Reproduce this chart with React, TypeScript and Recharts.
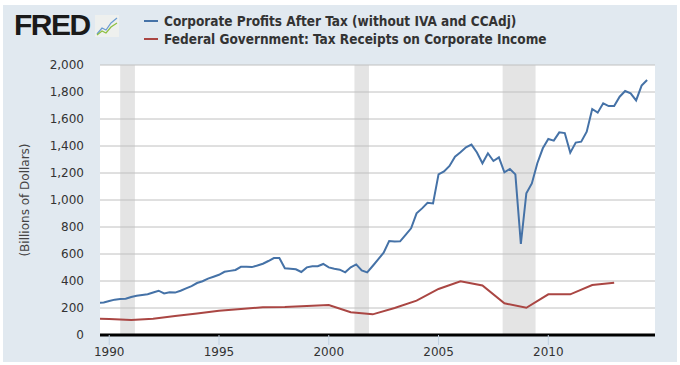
import React from "react";
import {
  ComposedChart,
  Line,
  XAxis,
  YAxis,
  CartesianGrid,
  ReferenceArea,
  ReferenceLine,
} from "recharts";

// quarterly, first observation 1989 Q3
const profitStart = 1989.5;
const profits = [
  239, 241,
  252, 262, 266, 268,
  282, 291, 297, 302,
  315, 328, 308, 316,
  314, 328, 345, 362,
  385, 398, 418, 432,
  446, 468, 475, 482,
  505, 506, 503, 515,
  528, 548, 570, 571,
  494, 491, 487, 467,
  501, 509, 509, 526,
  501, 491, 484, 464,
  501, 523, 479, 464,
  511, 560, 610, 696,
  692, 694, 741, 790,
  901, 938, 980, 975,
  1190, 1212, 1252, 1321,
  1353, 1390, 1410, 1352,
  1272, 1346, 1289, 1316,
  1205, 1230, 1190, 674,
  1050, 1123, 1272, 1383,
  1452, 1440, 1501, 1496,
  1351, 1425, 1432, 1506,
  1674, 1647, 1716, 1696,
  1696, 1765, 1807, 1790,
  1738, 1847, 1889,
];

// annual
const taxYears = [
  1989, 1990, 1991, 1992, 1993, 1994, 1995, 1996, 1997, 1998, 1999, 2000, 2001,
  2002, 2003, 2004, 2005, 2006, 2007, 2008, 2009, 2010, 2011, 2012, 2013,
];
const taxReceipts = [
  123, 118, 111, 121, 141, 160, 180, 193, 205, 207, 215, 222, 168,
  153, 200, 255, 341, 398, 367, 235, 202, 301, 301, 370, 387,
];

const recessions = [
  [1990.5, 1991.17],
  [2001.17, 2001.83],
  [2007.92, 2009.42],
];

const yTicks = [0, 200, 400, 600, 800, 1000, 1200, 1400, 1600, 1800, 2000];
const xTicks = [1990, 1995, 2000, 2005, 2010];

const profitLabel = "Corporate Profits After Tax (without IVA and CCAdj)";
const taxLabel = "Federal Government: Tax Receipts on Corporate Income";

const blue = "#4572A7";
const red = "#AA4643";
const font = "'DejaVu Sans', Verdana, sans-serif";

const profitData = profits.map((v, i) => ({ t: profitStart + i * 0.25, v }));
const taxData = taxYears.map((t, i) => ({ t, v: taxReceipts[i] }));

const LegendRow = ({ color, text, top }: { color: string; text: string; top: number }) => (
  <div style={{ position: "absolute", left: 144, top, display: "flex", alignItems: "center" }}>
    <div style={{ width: 14, height: 2, background: color, marginRight: 6 }} />
    <span
      style={{
        fontFamily: "'DejaVu Sans Condensed', 'DejaVu Sans', sans-serif",
        fontWeight: "bold",
        fontSize: 13.5,
        color: "#333",
        whiteSpace: "nowrap",
      }}
    >
      {text}
    </span>
  </div>
);

export default function App() {
  return (
    <div style={{ position: "absolute", left: 0, top: 0, width: 680, height: 365, background: "#fff" }}>
      <div
        style={{ position: "absolute", left: 3, top: 5, width: 674, height: 357, background: "#E1E9F0" }}
      />
      {/* logo */}
      <div
        style={{
          position: "absolute",
          left: 14,
          top: 8,
          fontFamily: "'Liberation Sans', Arial, sans-serif",
          fontWeight: 900,
          fontSize: 30,
          letterSpacing: -1.5,
          color: "#1a1a1a",
        }}
      >
        FRED
      </div>
      <svg style={{ position: "absolute", left: 95, top: 15 }} width={24} height={22}>
        <rect x={0} y={0} width={24} height={22} fill="#eef0ee" />
        <polyline points="2,19 7,13 11,15 16,8 22,3" fill="none" stroke="#6a9bd1" strokeWidth={1.2} />
        <polyline points="2,20 7,16 11,18 16,12 22,8" fill="none" stroke="#8cbf3f" strokeWidth={1.2} />
      </svg>
      <LegendRow color={blue} text={profitLabel} top={13} />
      <LegendRow color={red} text={taxLabel} top={31} />
      <div
        style={{
          position: "absolute",
          left: 25,
          top: 200,
          transform: "translate(-50%, -50%) rotate(-90deg)",
          fontFamily: font,
          fontSize: 12,
          color: "#444",
          whiteSpace: "nowrap",
        }}
      >
        (Billions of Dollars)
      </div>
      <div style={{ position: "absolute", left: 0, top: 0 }}>
        <ComposedChart
          width={680}
          height={365}
          margin={{ top: 65, right: 25, bottom: 10, left: 40 }}
        >
          <CartesianGrid horizontal={false} vertical={false} fill="#ffffff" />
          <XAxis
            dataKey="t"
            type="number"
            domain={[1989.58, 2014.86]}
            allowDataOverflow
            ticks={xTicks}
            height={20}
            tickSize={10}
            tickMargin={2}
            axisLine={{ stroke: "#000", strokeWidth: 3 }}
            tickLine={{ stroke: "#C0D0E0" }}
            tick={{ fontFamily: font, fontSize: 12, fill: "#333" }}
          />
          <YAxis
            type="number"
            domain={[0, 2000]}
            ticks={yTicks}
            width={60}
            axisLine={false}
            tickLine={false}
            tickSize={0}
            tickMargin={16}
            tickFormatter={(v: number) => v.toLocaleString("en-US")}
            tick={{ fontFamily: font, fontSize: 12, fill: "#333" }}
          />
          {recessions.map(([a, b]) => (
            <ReferenceArea key={a} x1={a} x2={b} y1={0} y2={2000} fill="#E4E4E4" fillOpacity={1} stroke="none" />
          ))}
          {yTicks.map((v) => (
            <ReferenceLine key={v} y={v} stroke="#C0C0C0" strokeWidth={1} />
          ))}
          <Line
            data={profitData}
            dataKey="v"
            type="linear"
            stroke={blue}
            strokeWidth={2}
            dot={false}
            isAnimationActive={false}
          />
          <Line
            data={taxData}
            dataKey="v"
            type="linear"
            stroke={red}
            strokeWidth={2}
            dot={false}
            isAnimationActive={false}
          />
        </ComposedChart>
      </div>
    </div>
  );
}
